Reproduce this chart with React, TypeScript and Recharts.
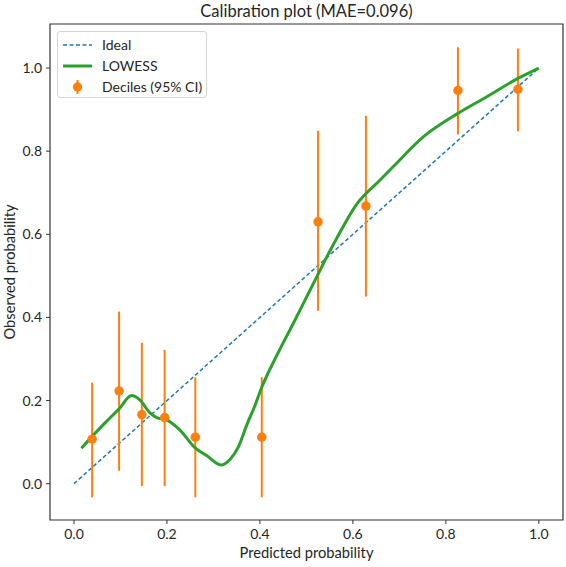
import {
  ComposedChart, Line, Scatter, ErrorBar, XAxis, YAxis, ZAxis, ReferenceArea,
} from 'recharts'

// decile bins: mean predicted, observed rate, 95% CI bounds
const decileX = [0.039, 0.097, 0.146, 0.195, 0.261, 0.404, 0.525, 0.628, 0.826, 0.955]
const decileObs = [0.107, 0.223, 0.166, 0.159, 0.112, 0.112, 0.630, 0.668, 0.946, 0.949]
const ciLow = [-0.033, 0.031, -0.006, -0.006, -0.033, -0.033, 0.416, 0.450, 0.840, 0.848]
const ciHigh = [0.243, 0.414, 0.339, 0.322, 0.256, 0.256, 0.849, 0.885, 1.050, 1.047]

// smoothed LOWESS curve
const lowessX = [
  0.016, 0.04, 0.07, 0.097, 0.124, 0.142, 0.163, 0.178, 0.2, 0.228, 0.26, 0.286,
  0.316, 0.336, 0.354, 0.372, 0.39, 0.404, 0.436, 0.472, 0.508, 0.526, 0.544,
  0.565, 0.608, 0.658, 0.687, 0.752, 0.826, 0.888, 0.955, 1.0,
]
const lowessY = [
  0.085, 0.115, 0.15, 0.18, 0.212, 0.201, 0.171, 0.159, 0.153, 0.129, 0.087, 0.067,
  0.045, 0.059, 0.089, 0.142, 0.19, 0.232, 0.308, 0.386, 0.466, 0.506, 0.546,
  0.59, 0.672, 0.73, 0.763, 0.835, 0.891, 0.931, 0.975, 1.0,
]

const idealX = [0, 1]

const xTicks = [0, 0.2, 0.4, 0.6, 0.8, 1.0]
const yTicks = [0, 0.2, 0.4, 0.6, 0.8, 1.0]

const X_MIN = -0.0516
const X_MAX = 1.052
const Y_MIN = -0.0874
const Y_MAX = 1.106

const BLUE = '#1f77b4'
const ORANGE = '#ff7f0e'
const GREEN = '#2ca02c'
const INK = '#262626'

const deciles = decileX.map((x, i) => ({
  x,
  y: decileObs[i],
  err: [decileObs[i] - ciLow[i], ciHigh[i] - decileObs[i]],
}))
const lowess = lowessX.map((x, i) => ({ x, y: lowessY[i] }))
const ideal = idealX.map(x => ({ x, y: x }))

const tickStyle = { fill: INK, fontSize: 14 }

function LegendBox() {
  const row = { display: 'flex', alignItems: 'center', height: 21 }
  const label = { marginLeft: 10, fontSize: 14, color: INK }
  return (
    <div style={{
      position: 'absolute', left: 57, top: 31, width: 150, height: 67,
      boxSizing: 'border-box', border: '1px solid #d4d4d4', borderRadius: 3,
      background: 'rgba(255,255,255,0.8)', padding: '2px 0 0 5px',
    }}>
      <div style={row}>
        <svg width={29} height={10}>
          <line x1={0} y1={5} x2={29} y2={5} stroke={BLUE} strokeWidth={1.5} strokeDasharray="4 2.5" />
        </svg>
        <span style={label}>Ideal</span>
      </div>
      <div style={row}>
        <svg width={29} height={10}>
          <line x1={0} y1={5} x2={29} y2={5} stroke={GREEN} strokeWidth={3} />
        </svg>
        <span style={label}>LOWESS</span>
      </div>
      <div style={row}>
        <svg width={29} height={14}>
          <line x1={14.5} y1={0} x2={14.5} y2={14} stroke={ORANGE} strokeWidth={2} />
          <circle cx={14.5} cy={7} r={4.7} fill={ORANGE} />
        </svg>
        <span style={label}>Deciles (95% CI)</span>
      </div>
    </div>
  )
}

export default function App() {
  return (
    <div style={{
      position: 'absolute', left: 0, top: 0, width: 566, height: 567,
      background: '#fff', fontFamily: 'Lato, sans-serif',
    }}>
      <div style={{
        position: 'absolute', left: 50, top: 3, width: 513, textAlign: 'center',
        fontSize: 16.5, lineHeight: '16px', color: INK,
      }}>
        Calibration plot (MAE=0.096)
      </div>
      <ComposedChart width={566} height={567} margin={{ top: 24, right: 3, bottom: 0, left: 0 }}>
        <XAxis
          dataKey="x"
          type="number"
          domain={[X_MIN, X_MAX]}
          allowDataOverflow
          ticks={xTicks}
          tickFormatter={v => v.toFixed(1)}
          tick={tickStyle}
          tickLine={{ stroke: '#333' }}
          tickSize={4}
          tickMargin={5}
          axisLine={false}
          height={47}
          label={{ value: 'Predicted probability', position: 'insideBottom', offset: 9, fill: INK, fontSize: 14.7 }}
        />
        <YAxis
          dataKey="y"
          type="number"
          domain={[Y_MIN, Y_MAX]}
          allowDataOverflow
          ticks={yTicks}
          tickFormatter={v => v.toFixed(1)}
          tick={tickStyle}
          tickLine={{ stroke: '#333' }}
          tickSize={4}
          tickMargin={4}
          axisLine={false}
          width={50}
          label={{
            value: 'Observed probability', angle: -90, position: 'insideLeft', offset: 10,
            fill: INK, fontSize: 14.7, style: { textAnchor: 'middle' },
          }}
        />
        <ZAxis range={[70, 70]} />
        <Line
          data={ideal}
          dataKey="y"
          type="linear"
          stroke={BLUE}
          strokeWidth={1.5}
          strokeDasharray="4 2.5"
          dot={false}
          isAnimationActive={false}
        />
        <Scatter data={deciles} dataKey="y" fill={ORANGE} isAnimationActive={false}>
          <ErrorBar dataKey="err" direction="y" width={0} stroke={ORANGE} strokeWidth={2} isAnimationActive={false} />
        </Scatter>
        <Line
          data={lowess}
          dataKey="y"
          type="monotone"
          stroke={GREEN}
          strokeWidth={3}
          dot={false}
          isAnimationActive={false}
        />
        <ReferenceArea
          x1={X_MIN}
          x2={X_MAX}
          y1={Y_MIN}
          y2={Y_MAX}
          fill="none"
          stroke="#333"
          strokeWidth={1.2}
          ifOverflow="visible"
        />
      </ComposedChart>
      <LegendBox />
    </div>
  )
}
